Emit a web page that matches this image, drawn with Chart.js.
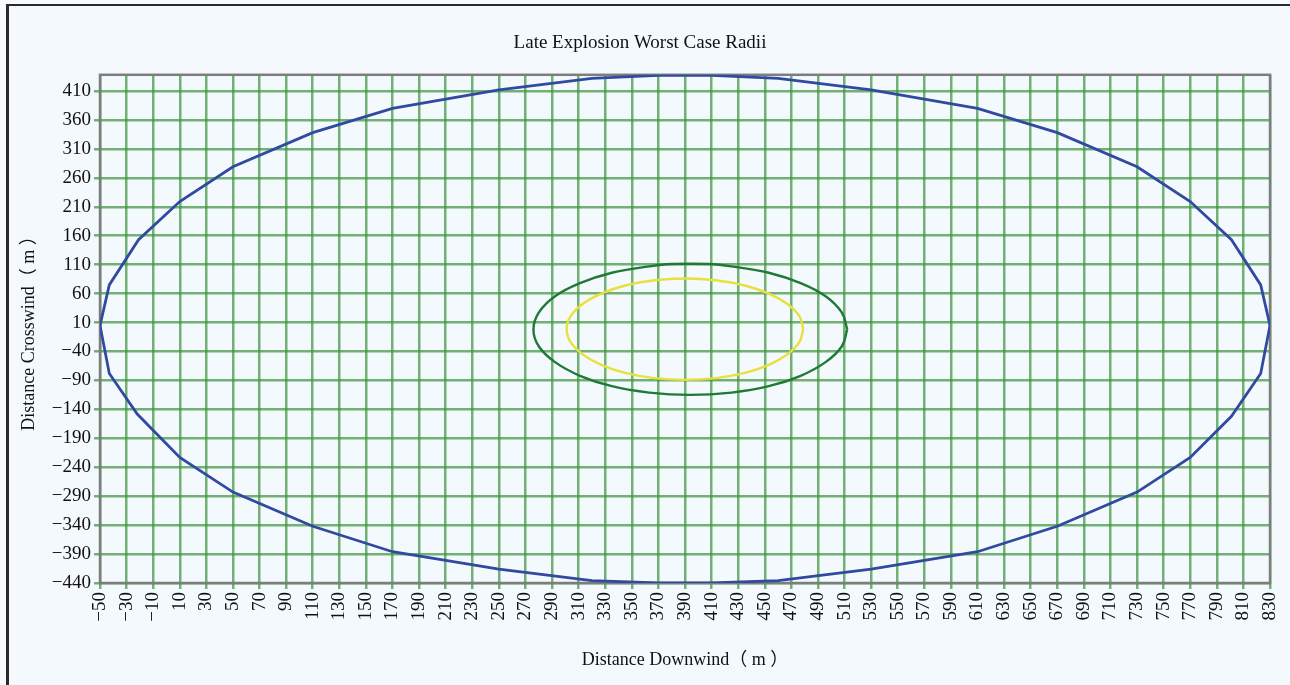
<!DOCTYPE html>
<html>
<head>
<meta charset="utf-8">
<script src="https://cdn.jsdelivr.net/npm/chart.js@4.4.1/dist/chart.umd.min.js"></script>
<style>
  html, body { margin: 0; padding: 0; background: #f8fbfe; }
  #frame {
    position: absolute; left: 6px; top: 4px; width: 1284px; height: 681px;
    border-left: 3px solid #2b2b2b; border-top: 2px solid #2b2b2b;
    background: #f4f9fe;
  }
  #wrap { position: absolute; left: 0; top: 0; width: 1290px; height: 685px; }
</style>
</head>
<body>
<div id="frame"></div>
<div id="wrap"><canvas id="chart"></canvas></div>
<script>
// tick labels
const xTicks = [-50,-30,-10,10,30,50,70,90,110,130,150,170,190,210,230,250,270,290,310,330,350,370,390,410,430,450,470,490,510,530,550,570,590,610,630,650,670,690,710,730,750,770,790,810,830];
const yTicks = [-440,-390,-340,-290,-240,-190,-140,-90,-40,10,60,110,160,210,260,310,360,410];

// outer (blue) radius
const blueX = [-50,-43,-21,10,50,110,170,250,320,370,410,460,530,610,670,730,770,801,823,830,823,801,770,730,670,610,530,460,410,370,320,250,170,110,50,10,-22,-43,-50];
const blueY = [5,75,153,219,279,338,380,412,432,437,437,432,412,380,338,279,219,153,75,5,-78,-152,-223,-283,-342,-386,-416,-436,-440,-440,-436,-416,-386,-342,-283,-223,-148,-78,5];

// middle (green) radius
const greenX = [512,508,496,477,453,425,408,380,363,335,311,292,280,276,280,292,311,335,363,394,425,453,477,496,508,512];
const greenY = [-2,27,55,78,96,107,111,111,107,96,78,55,27,-2,-31,-58,-82,-100,-111,-115,-111,-100,-82,-58,-31,-2];

// inner (yellow) radius
const yellowX = [479,476,467,453,435,413,390,367,345,327,313,304,301,304,313,327,345,367,390,413,435,453,467,476,479];
const yellowY = [-1,21,42,60,74,83,86,83,74,60,42,21,-1,-24,-45,-63,-77,-86,-89,-86,-77,-63,-45,-24,-1];

const pts = (xs, ys) => xs.map((x, i) => ({ x: x, y: ys[i] }));
const minus = v => String(v).replace('-', '\u2212');

const serif = "'Liberation Serif', 'Times New Roman', 'Noto Sans CJK SC', serif";

const boxPlugin = {
  id: 'box',
  beforeDatasetsDraw(chart) {
    const { ctx, chartArea: a } = chart;
    ctx.save();
    ctx.strokeStyle = '#7d7d7d';
    ctx.lineWidth = 2.5;
    ctx.strokeRect(a.left, a.top, a.right - a.left, a.bottom - a.top);
    ctx.restore();
  }
};

const gridStyle = {
  color: 'rgba(62,148,62,0.72)',
  lineWidth: 2.5,
  tickLength: 6,
  drawTicks: true
};

new Chart(document.getElementById('chart'), {
  type: 'scatter',
  data: {
    datasets: [
      { label: 'Outer', data: pts(blueX, blueY), showLine: true, borderColor: '#2f4aa0', borderWidth: 2.8, pointRadius: 0, tension: 0 },
      { label: 'Middle', data: pts(greenX, greenY), showLine: true, borderColor: '#1f7a35', borderWidth: 2.4, pointRadius: 0, tension: 0.4 },
      { label: 'Inner', data: pts(yellowX, yellowY), showLine: true, borderColor: '#e8e03c', borderWidth: 2.4, pointRadius: 0, tension: 0.4 }
    ]
  },
  options: {
    responsive: true,
    maintainAspectRatio: false,
    animation: false,
    layout: { padding: { top: 30, left: 10, right: 20, bottom: 10 } },
    plugins: {
      legend: { display: false },
      tooltip: { enabled: false },
      title: {
        display: true,
        text: 'Late Explosion Worst Case Radii',
        color: '#111',
        font: { family: serif, size: 19, weight: 'normal' },
        padding: { top: 2, bottom: 20 }
      }
    },
    scales: {
      x: {
        type: 'linear',
        min: -50,
        max: 830,
        afterBuildTicks: s => { s.ticks = xTicks.map(v => ({ value: v })); },
        afterFit: s => { s.height = 92; s.paddingRight = 4; s.paddingLeft = 4; },
        grid: gridStyle,
        border: { display: false },
        ticks: {
          color: '#111',
          font: { family: serif, size: 19 },
          minRotation: 90,
          maxRotation: 90,
          padding: 3,
          autoSkip: false,
          callback: minus
        },
        title: {
          display: true,
          text: 'Distance Downwind（ m ）',
          color: '#111',
          font: { family: serif, size: 18 },
          padding: { top: 0, bottom: 4 }
        }
      },
      y: {
        type: 'linear',
        min: -440,
        max: 438,
        afterBuildTicks: s => { s.ticks = yTicks.map(v => ({ value: v })); },
        afterFit: s => { s.width = 90; },
        grid: gridStyle,
        border: { display: false },
        ticks: {
          color: '#111',
          font: { family: serif, size: 19 },
          padding: 3,
          autoSkip: false,
          callback: minus
        },
        title: {
          display: true,
          text: 'Distance Crosswind（ m ）',
          color: '#111',
          font: { family: serif, size: 18 },
          padding: { top: 8, bottom: 0 }
        }
      }
    }
  },
  plugins: [boxPlugin]
});
</script>
</body>
</html>
